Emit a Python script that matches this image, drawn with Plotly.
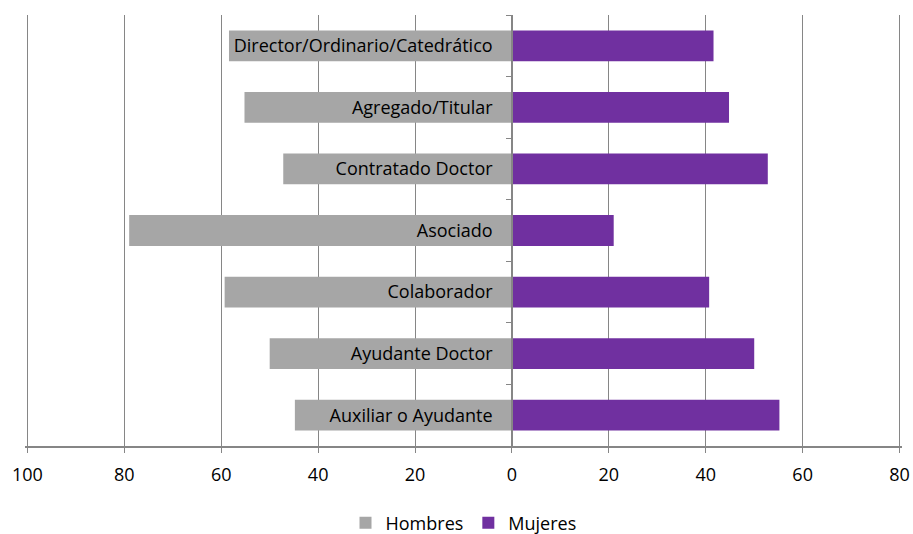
import plotly.graph_objects as go

# -----------------------------
# Data
# -----------------------------
categorias = [
    "Director/Ordinario/Catedrático",
    "Agregado/Titular",
    "Contratado Doctor",
    "Asociado",
    "Colaborador",
    "Ayudante Doctor",
    "Auxiliar o Ayudante",
]
hombres = [58.4, 55.2, 47.2, 79.0, 59.3, 50.0, 44.8]
mujeres = [41.6, 44.8, 52.8, 21.0, 40.7, 50.0, 55.2]

tick_vals = [-100, -80, -60, -40, -20, 0, 20, 40, 60, 80]
tick_text = ["100", "80", "60", "40", "20", "0", "20", "40", "60", "80"]

# -----------------------------
# Figure
# -----------------------------
fig = go.Figure()
fig.add_trace(go.Bar(
    y=categorias,
    x=[-v for v in hombres],
    orientation="h",
    name="Hombres",
    marker=dict(color="#A6A6A6", line=dict(width=0)),
))
fig.add_trace(go.Bar(
    y=categorias,
    x=mujeres,
    orientation="h",
    name="Mujeres",
    marker=dict(color="#7030A0", line=dict(width=0)),
))

x_min, x_max = -100.5, 80.5
fig.update_layout(
    barmode="relative",
    bargap=0.5,
    width=913,
    height=534,
    margin=dict(l=25, r=11, t=15, b=88, autoexpand=False),
    plot_bgcolor="white",
    paper_bgcolor="white",
    font=dict(family="Open Sans", size=18, color="#000000"),
    legend=dict(
        orientation="h",
        x=0.5,
        xanchor="center",
        y=-0.179,
        yanchor="middle",
        font=dict(size=18),
        itemwidth=30,
        traceorder="normal",
    ),
    xaxis=dict(
        range=[x_min, x_max],
        tickvals=tick_vals,
        ticktext=tick_text,
        showgrid=True,
        gridcolor="#868686",
        gridwidth=1,
        zeroline=False,
        showline=True,
        linecolor="#868686",
        linewidth=1.5,
        ticks="outside",
        ticklen=5,
        tickcolor="#868686",
        ticklabelstandoff=7,
        tickfont=dict(size=18),
        automargin=False,
        fixedrange=True,
    ),
    yaxis=dict(
        autorange="reversed",
        anchor="free",
        position=(0 - x_min) / (x_max - x_min),
        showline=True,
        linecolor="#868686",
        linewidth=1.5,
        ticks="outside",
        ticklen=5,
        tickcolor="#868686",
        tickson="boundaries",
        showgrid=False,
        ticklabelstandoff=15,
        tickfont=dict(size=18),
        automargin=False,
        fixedrange=True,
    ),
)

# drop the default body margin so the figure fills the window exactly
fig.write_html(
    "out.html",
    config={"displayModeBar": False},
    post_script="document.body.style.margin='0';document.body.style.overflow='hidden';",
)
